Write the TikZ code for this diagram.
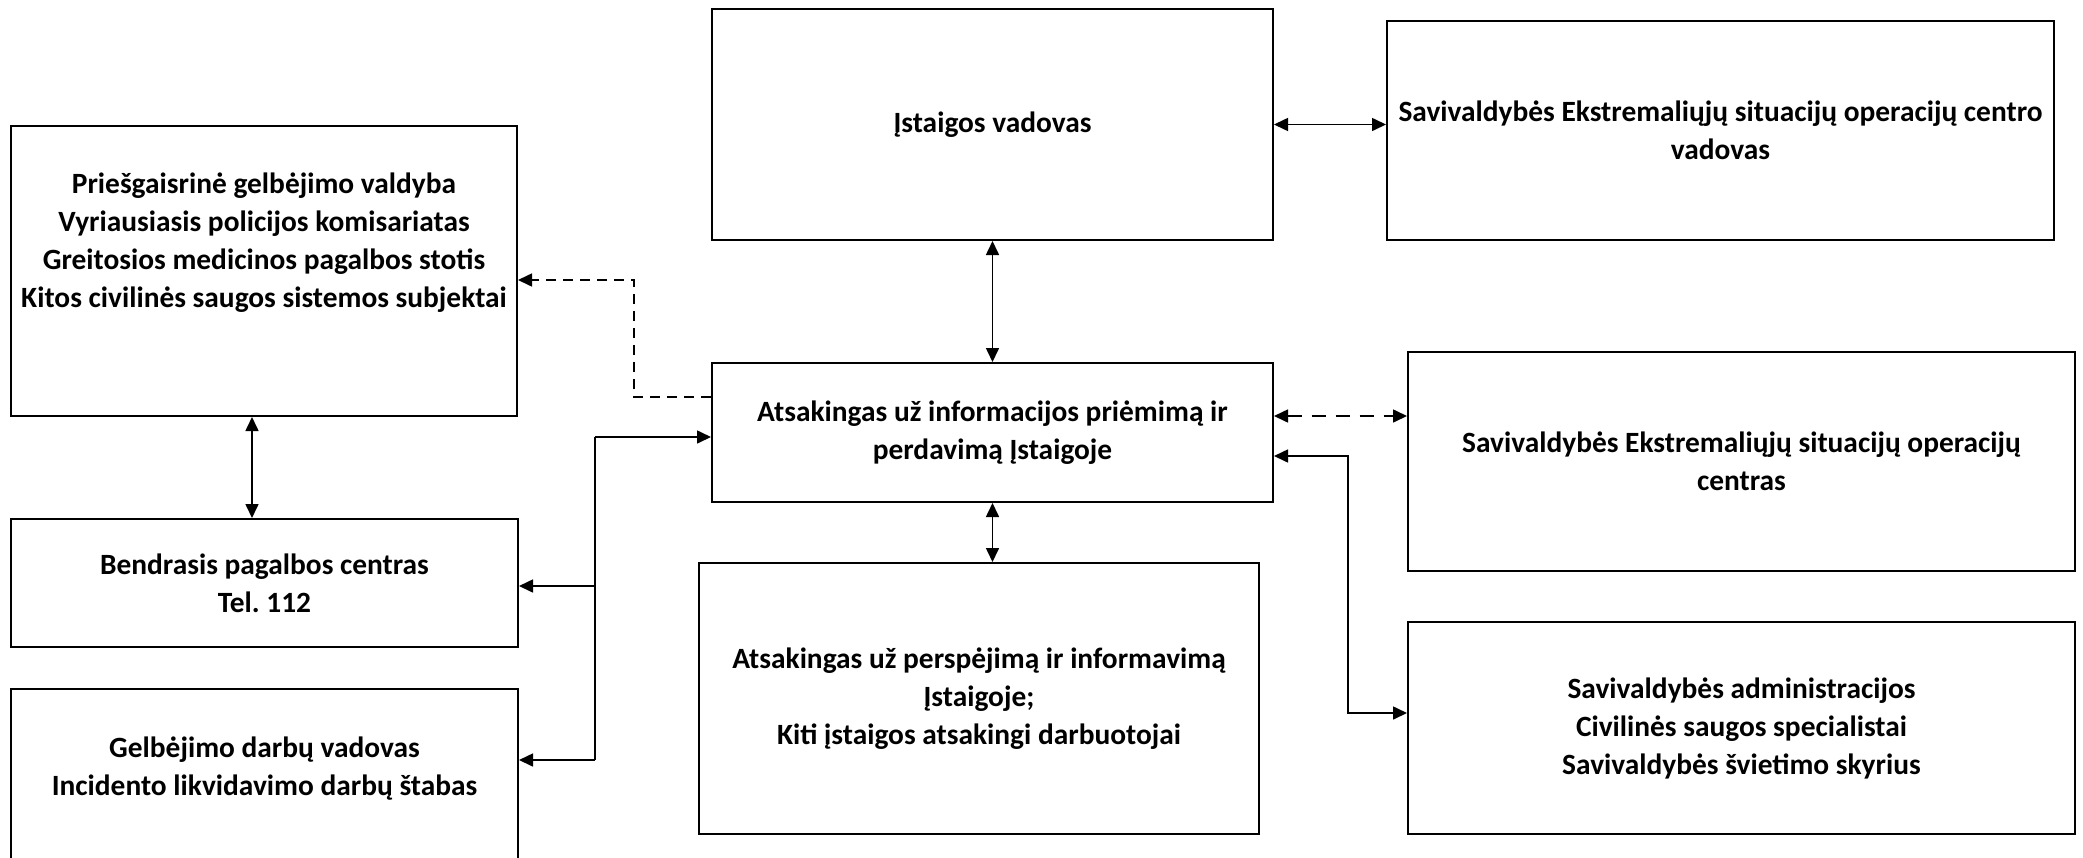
\documentclass[tikz,border=0pt]{standalone}
\usepackage{fontspec}
\setmainfont{Carlito}
\frenchspacing
\usetikzlibrary{arrows.meta}
\tikzset{
    box/.style={draw,line width=1pt,align=center,inner sep=0pt,
        font=\bfseries\fontsize{14.7}{19}\selectfont},
    boxtext/.style={align=center,inner sep=0pt,
        font=\bfseries\fontsize{14.7}{19}\selectfont},
    edge/.style={->,> = {Triangle[length=7pt,width=6.5pt]},line width=0.8pt},
    biedge/.style={<->,> = {Triangle[length=7pt,width=6.5pt]},line width=0.8pt},
    dedge/.style={edge,dash pattern=on 5pt off 3.5pt},
    bidedge/.style={biedge,dash pattern=on 7pt off 5pt}
}

\begin{document}
\begin{tikzpicture}[x=0.5pt,y=-0.5pt]
\useasboundingbox (0,0) rectangle (2083,857);

% centre column
\node[box,minimum width=280.5pt,minimum height=115.5pt] (vad) at (992.5,124.5) {Įstaigos vadovas};
\node[box,minimum width=280.5pt,minimum height=69.5pt] (info) at (992.5,432.5)
    {Atsakingas už informacijos priėmimą ir\\perdavimą Įstaigoje};
\node[box,minimum width=280pt,minimum height=135.5pt] (persp) at (979,698.5)
    {Atsakingas už perspėjimą ir informavimą\\Įstaigoje;\\Kiti įstaigos atsakingi darbuotojai};

% right column
\node[box,minimum width=333.5pt,minimum height=109.5pt] (esocvad) at (1720.5,130.5)
    {Savivaldybės Ekstremaliųjų situacijų operacijų centro\\vadovas};
\node[box,minimum width=333.5pt,minimum height=109.5pt] (esoc) at (1741.5,461.5)
    {Savivaldybės Ekstremaliųjų situacijų operacijų\\centras};
\node[box,minimum width=333.5pt,minimum height=106pt] (admin) at (1741.5,728)
    {Savivaldybės administracijos\\Civilinės saugos specialistai\\Savivaldybės švietimo skyrius};

% left column
\node[box,minimum width=253pt,minimum height=145pt] (tarn) at (264,271) {};
\node[boxtext] (tarntxt) at (264,243) {Priešgaisrinė gelbėjimo valdyba\\Vyriausiasis policijos komisariatas\\Greitosios medicinos pagalbos stotis\\Kitos civilinės saugos sistemos subjektai};
\node[box,minimum width=253.5pt,minimum height=64pt] (bpc) at (264.5,583)
    {Bendrasis pagalbos centras\\Tel. 112};
\node[box,minimum width=253.5pt,minimum height=95.5pt] (gelb) at (264.5,784.5) {};
\node[boxtext] (gelbtxt) at (264.5,769) {Gelbėjimo darbų vadovas\\Incidento likvidavimo darbų štabas};

% connectors
\draw[biedge] (vad.east) -- (vad.east -| esocvad.west);
\draw[biedge] (vad.south) -- (info.north);
\draw[biedge] (info.south) -- (info.south |- persp.north);
\draw[biedge] ([xshift=-6pt]tarn.south) -- ([xshift=-6pt]tarn.south |- bpc.north);

\coordinate (d1) at (634,397);
\coordinate (d2) at (634,280);
\draw[dedge] (info.west |- d1) -- (d1) -- (d2) -- (d2 -| tarn.east);

\coordinate (bt) at (595,437);
\coordinate (bm) at (595,586);
\coordinate (bb) at (595,760);
\draw[line width=0.8pt] (bt) -- (bb);
\draw[edge] (bt) -- (bt -| info.west);
\draw[edge] (bm) -- (bm -| bpc.east);
\draw[edge] (bb) -- (bb -| gelb.east);

\coordinate (rd) at (1340,416);
\draw[bidedge] (rd -| info.east) -- (rd -| esoc.west);
\coordinate (rt) at (1348,456);
\coordinate (rb) at (1348,713);
\draw[biedge] (rt -| info.east) -- (rt) -- (rb) -- (rb -| admin.west);

\end{tikzpicture}
\end{document}
